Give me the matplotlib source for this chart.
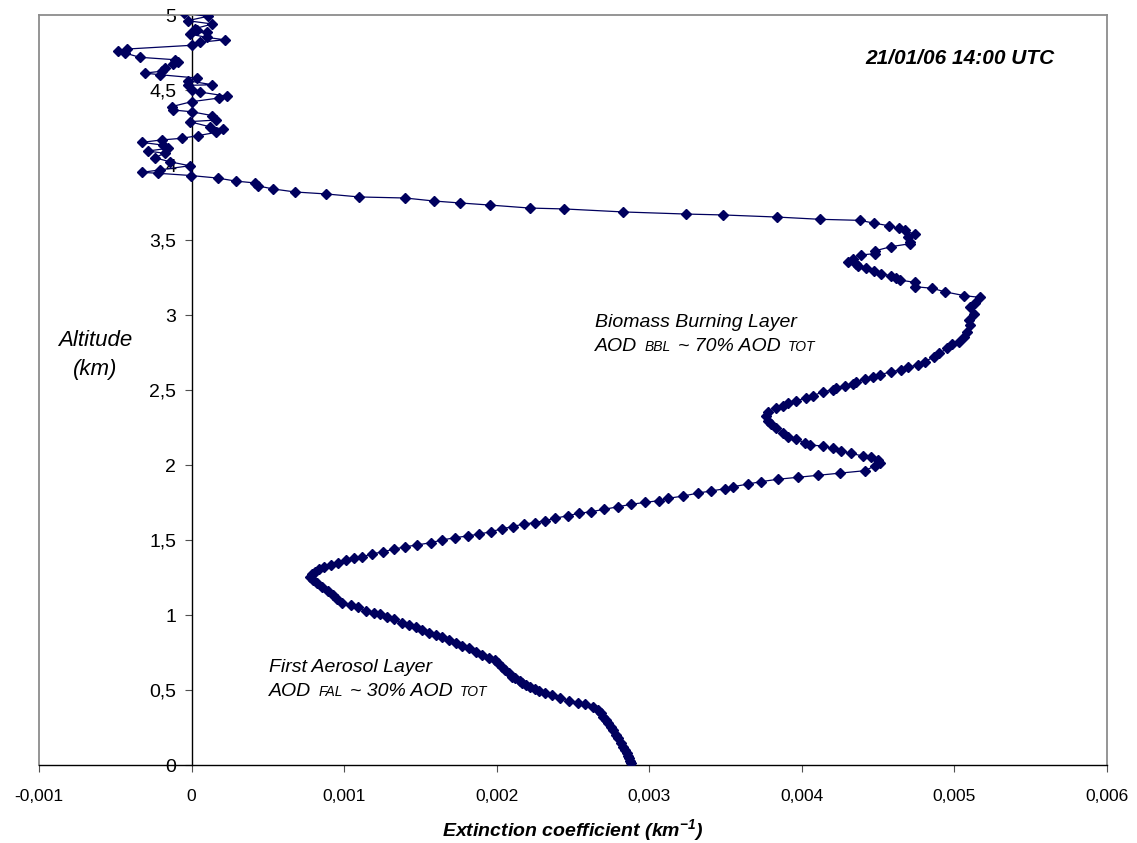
import numpy as np
import matplotlib
matplotlib.use("Agg")
import matplotlib.pyplot as plt
from matplotlib.ticker import FixedLocator, FuncFormatter
from matplotlib.offsetbox import TextArea, HPacker, VPacker, AnnotationBbox

FONT = "Liberation Sans"
plt.rcParams["font.family"] = [FONT, "DejaVu Sans"]
plt.rcParams["mathtext.fontset"] = "custom"
plt.rcParams["mathtext.default"] = "regular"

# lidar profile (altitude in km, extinction in 1e-3 km^-1)
altitude_km = [
    0.011, 0.030, 0.045, 0.060, 0.078, 0.100, 0.122, 0.145, 0.178, 0.200,
    0.233, 0.255, 0.278, 0.300, 0.322, 0.345, 0.367, 0.389, 0.407, 0.415,
    0.429, 0.445, 0.467, 0.478, 0.495, 0.510, 0.522, 0.535, 0.549, 0.560,
    0.578, 0.590, 0.611, 0.633, 0.655, 0.680, 0.700, 0.715, 0.733, 0.755,
    0.778, 0.793, 0.811, 0.833, 0.851, 0.867, 0.882, 0.900, 0.922, 0.933,
    0.949, 0.971, 0.989, 1.005, 1.015, 1.029, 1.051, 1.067, 1.082, 1.105,
    1.133, 1.162, 1.189, 1.211, 1.233, 1.255, 1.273, 1.289, 1.305, 1.318,
    1.333, 1.349, 1.367, 1.382, 1.389, 1.407, 1.422, 1.438, 1.455, 1.467,
    1.482, 1.500, 1.515, 1.527, 1.540, 1.555, 1.575, 1.589, 1.607, 1.615,
    1.629, 1.645, 1.662, 1.678, 1.689, 1.705, 1.722, 1.738, 1.751, 1.762,
    1.778, 1.793, 1.813, 1.827, 1.842, 1.855, 1.873, 1.889, 1.905, 1.918,
    1.931, 1.945, 1.962, 1.993, 2.015, 2.033, 2.051, 2.060, 2.078, 2.095,
    2.111, 2.127, 2.133, 2.149, 2.171, 2.189, 2.215, 2.245, 2.273, 2.295,
    2.327, 2.355, 2.378, 2.393, 2.411, 2.429, 2.445, 2.460, 2.489, 2.500,
    2.511, 2.527, 2.540, 2.555, 2.571, 2.585, 2.600, 2.622, 2.633, 2.651,
    2.667, 2.689, 2.722, 2.745, 2.778, 2.807, 2.822, 2.855, 2.889, 2.933,
    2.967, 3.007, 3.055, 3.082, 3.117, 3.129, 3.155, 3.178, 3.189, 3.218,
    3.233, 3.245, 3.262, 3.275, 3.293, 3.315, 3.327, 3.337, 3.353, 3.373,
    3.400, 3.409, 3.427, 3.455, 3.475, 3.489, 3.522, 3.538, 3.565, 3.578,
    3.595, 3.613, 3.631, 3.638, 3.653, 3.667, 3.673, 3.687, 3.707, 3.713,
    3.733, 3.747, 3.760, 3.780, 3.787, 3.807, 3.820, 3.840, 3.860, 3.880,
    3.893, 3.913, 3.930, 3.945, 3.951, 3.967, 3.995, 4.022, 4.049, 4.078,
    4.093, 4.111, 4.133, 4.151, 4.167, 4.178, 4.195, 4.218, 4.240, 4.255,
    4.289, 4.300, 4.329, 4.355, 4.367, 4.389, 4.422, 4.447, 4.458, 4.487,
    4.502, 4.531, 4.535, 4.562, 4.580, 4.602, 4.613, 4.625, 4.647, 4.673,
    4.687, 4.702, 4.718, 4.747, 4.762, 4.773, 4.798, 4.818, 4.835, 4.851,
    4.873, 4.887, 4.902, 4.909, 4.940, 4.962, 4.991, 5.013,
]
extinction_e3 = [
    2.880, 2.873, 2.867, 2.860, 2.852, 2.842, 2.830, 2.815, 2.797, 2.782,
    2.765, 2.748, 2.732, 2.716, 2.699, 2.684, 2.667, 2.634, 2.580, 2.531,
    2.471, 2.416, 2.362, 2.318, 2.275, 2.248, 2.220, 2.195, 2.165, 2.150,
    2.122, 2.103, 2.078, 2.057, 2.035, 2.010, 1.992, 1.948, 1.904, 1.861,
    1.817, 1.773, 1.730, 1.686, 1.642, 1.599, 1.556, 1.512, 1.469, 1.425,
    1.377, 1.327, 1.283, 1.233, 1.196, 1.142, 1.093, 1.044, 0.989, 0.956,
    0.924, 0.891, 0.854, 0.819, 0.793, 0.776, 0.789, 0.810, 0.837, 0.869,
    0.913, 0.963, 1.011, 1.065, 1.120, 1.185, 1.255, 1.327, 1.399, 1.479,
    1.567, 1.642, 1.724, 1.809, 1.887, 1.961, 2.035, 2.105, 2.176, 2.248,
    2.314, 2.384, 2.464, 2.541, 2.621, 2.706, 2.797, 2.882, 2.974, 3.063,
    3.124, 3.222, 3.320, 3.405, 3.497, 3.549, 3.647, 3.732, 3.843, 3.974,
    4.105, 4.248, 4.412, 4.477, 4.510, 4.497, 4.451, 4.399, 4.320, 4.255,
    4.203, 4.137, 4.052, 4.020, 3.961, 3.908, 3.876, 3.830, 3.797, 3.778,
    3.765, 3.778, 3.830, 3.876, 3.908, 3.961, 4.026, 4.072, 4.137, 4.203,
    4.222, 4.281, 4.333, 4.353, 4.412, 4.464, 4.510, 4.582, 4.647, 4.693,
    4.758, 4.804, 4.869, 4.902, 4.954, 4.987, 5.033, 5.065, 5.085, 5.105,
    5.098, 5.131, 5.105, 5.137, 5.170, 5.065, 4.935, 4.856, 4.739, 4.739,
    4.641, 4.614, 4.582, 4.516, 4.471, 4.418, 4.366, 4.353, 4.301, 4.333,
    4.386, 4.477, 4.477, 4.582, 4.706, 4.706, 4.693, 4.739, 4.673, 4.634,
    4.569, 4.471, 4.379, 4.118, 3.837, 3.484, 3.242, 2.830, 2.444, 2.216,
    1.954, 1.758, 1.588, 1.399, 1.098, 0.882, 0.680, 0.536, 0.438, 0.418,
    0.288, 0.170, -0.007, -0.222, -0.327, -0.209, -0.013, -0.144, -0.242, -0.176,
    -0.288, -0.157, -0.190, -0.327, -0.196, -0.065, 0.039, 0.163, 0.203, 0.118,
    -0.013, 0.163, 0.137, 0.000, -0.124, -0.131, 0.000, 0.183, 0.235, 0.052,
    0.000, -0.026, 0.137, -0.026, 0.033, -0.209, -0.307, -0.196, -0.176, -0.124,
    -0.092, -0.111, -0.340, -0.438, -0.484, -0.425, 0.000, 0.052, 0.216, 0.098,
    -0.013, 0.098, 0.033, 0.020, 0.137, -0.026, 0.105, -0.050,
]

x_ticks = [-0.001, 0, 0.001, 0.002, 0.003, 0.004, 0.005, 0.006]
y_ticks = [0, 0.5, 1, 1.5, 2, 2.5, 3, 3.5, 4, 4.5, 5]
date_label = "21/01/06 14:00 UTC"
layers = [
    # (title, subscript tag, share, anchor x, anchor alt)
    ("Biomass Burning Layer", "BBL", 70, 0.002647, 2.87),
    ("First Aerosol Layer", "FAL", 30, 0.000510, 0.57),
]

navy = "#00005e"
W, H = 1137, 843

fig = plt.figure(figsize=(W / 100, H / 100), dpi=100)
ax = fig.add_axes([39 / W, 1 - 765 / H, (1107 - 39) / W, (765 - 15) / H])

ext = np.array(extinction_e3) * 1e-3
ax.plot(ext, altitude_km, color=navy, lw=0.9, marker="D", ms=4.8,
        mec=navy, mfc=navy, zorder=3)

ax.set_xlim(-0.001, 0.006)
ax.set_ylim(0, 5)

# y axis sits on x = 0, plot frame is grey
ax.spines["left"].set_position(("data", 0))
ax.spines["left"].set_color("black")
ax.spines["left"].set_linewidth(1.0)
ax.spines["bottom"].set_color("black")
ax.spines["bottom"].set_linewidth(1.0)
for s in ("top", "right"):
    ax.spines[s].set_color("#8c8c8c")
    ax.spines[s].set_linewidth(1.3)
ax.plot([0, 0], [0, 1], transform=ax.transAxes, color="#8c8c8c", lw=1.3,
        clip_on=False, zorder=1)

comma = FuncFormatter(lambda v, p: f"{v:g}".replace(".", ","))
ax.xaxis.set_major_locator(FixedLocator(x_ticks))
ax.yaxis.set_major_locator(FixedLocator(y_ticks))
ax.xaxis.set_major_formatter(comma)
ax.yaxis.set_major_formatter(comma)
ax.tick_params(axis="x", direction="out", length=5, width=0.8, pad=12,
               labelsize=12.5, color="#505050")
ax.tick_params(axis="y", direction="out", length=5, width=0.8, pad=6,
               labelsize=14, color="#505050")

fig.text(573 / W, 1 - 830 / H, "Extinction coefficient (km$^{-1}$)",
         fontsize=14, fontweight="bold", style="italic",
         ha="center", va="center")
fig.text(95 / W, 1 - 355 / H, "Altitude\n(km)", fontsize=16, style="italic",
         ha="center", va="center", linespacing=1.45)
fig.text(960 / W, 1 - 58 / H, date_label, fontsize=15, fontweight="bold",
         style="italic", ha="center", va="center")

big = dict(fontsize=14, style="italic", color="black")
small = dict(fontsize=10, style="italic", color="black")
for title, tag, share, lx, ly in layers:
    line2 = HPacker(children=[TextArea("AOD", textprops=big),
                              TextArea(tag, textprops=small),
                              TextArea(f"~ {share}% AOD", textprops=big),
                              TextArea("TOT", textprops=small)],
                    align="baseline", pad=0, sep=5)
    box = VPacker(children=[TextArea(title, textprops=big), line2],
                  align="left", pad=0, sep=5)
    ab = AnnotationBbox(box, (lx, ly), xycoords="data", box_alignment=(0, 0.5),
                        frameon=False, pad=0)
    ax.add_artist(ab)

fig.savefig("out.png", dpi=100)
